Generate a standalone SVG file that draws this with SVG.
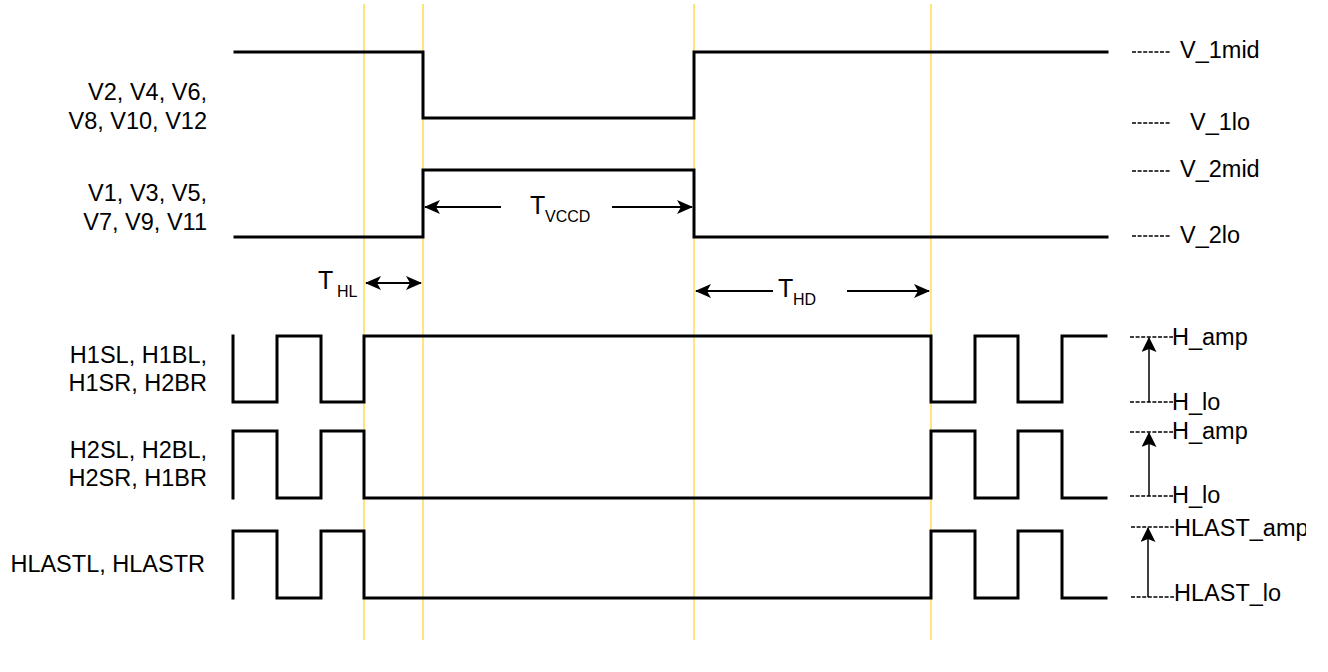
<svg xmlns="http://www.w3.org/2000/svg" width="1328" height="672" viewBox="0 0 1328 672">
<style>
text{font-family:"Liberation Sans",Arial,Helvetica,sans-serif;fill:#000}
.lbl{font-size:23.5px}
.lft{text-anchor:end}
.tt{font-size:25px}
.sub{font-size:16px}
.sig{fill:none;stroke:#000;stroke-width:3;stroke-linejoin:miter;stroke-linecap:square}
.yl{stroke:#FFD43B;stroke-width:1.3}
.dim{fill:none;stroke:#000;stroke-width:2}
.vdim{fill:none;stroke:#000;stroke-width:1.5}
.dash{fill:none;stroke:#000;stroke-width:1.5;stroke-dasharray:4 1.6}
</style>
<defs>
<marker id="ah" viewBox="0 0 16 14" refX="15" refY="7" markerWidth="16" markerHeight="14" orient="auto-start-reverse" markerUnits="userSpaceOnUse">
<path d="M0,0 L16,7 L0,14 L4,7 Z" fill="#000"/>
</marker>
<marker id="ah2" viewBox="0 0 15 15" refX="14" refY="7.5" markerWidth="15" markerHeight="15" orient="auto" markerUnits="userSpaceOnUse">
<path d="M0,0 L15,7.5 L0,15 L3,7.5 Z" fill="#000"/>
</marker>
<clipPath id="clipR"><rect x="0" y="0" width="1306" height="672"/></clipPath>
</defs>
<rect width="1328" height="672" fill="#fff"/>
<g id="guides">
<line class="yl" x1="364" y1="4" x2="364" y2="640"/>
<line class="yl" x1="423" y1="4" x2="423" y2="640"/>
<line class="yl" x1="694" y1="4" x2="694" y2="640"/>
<line class="yl" x1="931" y1="4" x2="931" y2="640"/>
</g>
<g id="sig-v-even">
<path class="sig" d="M235,52 H423 V118 H694 V52 H1107"/>
<text class="lbl lft" x="207" y="100">V2, V4, V6,</text>
<text class="lbl lft" x="207" y="129">V8, V10, V12</text>
</g>
<g id="sig-v-odd">
<path class="sig" d="M235,237 H423 V170 H694 V237 H1107"/>
<text class="lbl lft" x="207" y="201">V1, V3, V5,</text>
<text class="lbl lft" x="207" y="230">V7, V9, V11</text>
</g>
<g id="sig-h1">
<path class="sig" d="M233,336 V402 H277 V336 H321 V402 H364 V336 H931 V402 H975 V336 H1018 V402 H1062 V336 H1106"/>
<text class="lbl lft" x="207" y="363">H1SL, H1BL,</text>
<text class="lbl lft" x="207" y="391">H1SR, H2BR</text>
</g>
<g id="sig-h2">
<path class="sig" d="M233,498 V431 H277 V498 H321 V431 H364 V498 H931 V431 H975 V498 H1018 V431 H1062 V498 H1106"/>
<text class="lbl lft" x="207" y="458">H2SL, H2BL,</text>
<text class="lbl lft" x="207" y="486">H2SR, H1BR</text>
</g>
<g id="sig-hlast">
<path class="sig" d="M233,598 V531 H277 V598 H321 V531 H364 V598 H931 V531 H975 V598 H1018 V531 H1062 V598 H1106"/>
<text class="lbl lft" x="205" y="572">HLASTL, HLASTR</text>
</g>
<g id="levels-v">
<line class="dash" x1="1132" y1="52" x2="1170" y2="52"/>
<text class="lbl" x="1180" y="58">V_1mid</text>
<line class="dash" x1="1132" y1="123" x2="1170" y2="123"/>
<text class="lbl" x="1190" y="130">V_1lo</text>
<line class="dash" x1="1132" y1="171" x2="1170" y2="171"/>
<text class="lbl" x="1180" y="177">V_2mid</text>
<line class="dash" x1="1132" y1="236" x2="1170" y2="236"/>
<text class="lbl" x="1180" y="243">V_2lo</text>
</g>
<g id="levels-h">
<line class="dash" x1="1130" y1="337" x2="1173" y2="337"/>
<text class="lbl" x="1172" y="345">H_amp</text>
<line class="dash" x1="1130" y1="402" x2="1173" y2="402"/>
<text class="lbl" x="1172" y="410">H_lo</text>
<line class="dash" x1="1130" y1="432" x2="1173" y2="432"/>
<text class="lbl" x="1172" y="439">H_amp</text>
<line class="dash" x1="1130" y1="496" x2="1173" y2="496"/>
<text class="lbl" x="1172" y="503">H_lo</text>
<line class="dash" x1="1131" y1="527" x2="1174" y2="527"/>
<text class="lbl" x="1174" y="536" clip-path="url(#clipR)">HLAST_amp</text>
<line class="dash" x1="1131" y1="597" x2="1174" y2="597"/>
<text class="lbl" x="1174" y="601">HLAST_lo</text>
</g>
<g id="timing-labels">
<text class="tt" x="318" y="289">T</text><text class="sub" x="337" y="297">HL</text>
<text class="tt" x="530" y="214">T</text><text class="sub" x="545" y="222">VCCD</text>
<text class="tt" x="778" y="297">T</text><text class="sub" x="793" y="305">HD</text>
</g>
<g id="connectors">
<line class="dim" x1="366" y1="283" x2="421" y2="283" marker-start="url(#ah)" marker-end="url(#ah)"/>
<line class="dim" x1="501" y1="207" x2="425" y2="207" marker-end="url(#ah)"/>
<line class="dim" x1="612" y1="207" x2="692" y2="207" marker-end="url(#ah)"/>
<line class="dim" x1="773" y1="291" x2="696" y2="291" marker-end="url(#ah)"/>
<line class="dim" x1="847" y1="291" x2="929" y2="291" marker-end="url(#ah)"/>
<line class="vdim" x1="1149" y1="402" x2="1149" y2="338" marker-end="url(#ah2)"/>
<line class="vdim" x1="1149" y1="496" x2="1149" y2="433" marker-end="url(#ah2)"/>
<line class="vdim" x1="1148" y1="597" x2="1148" y2="528" marker-end="url(#ah2)"/>
</g>
</svg>
